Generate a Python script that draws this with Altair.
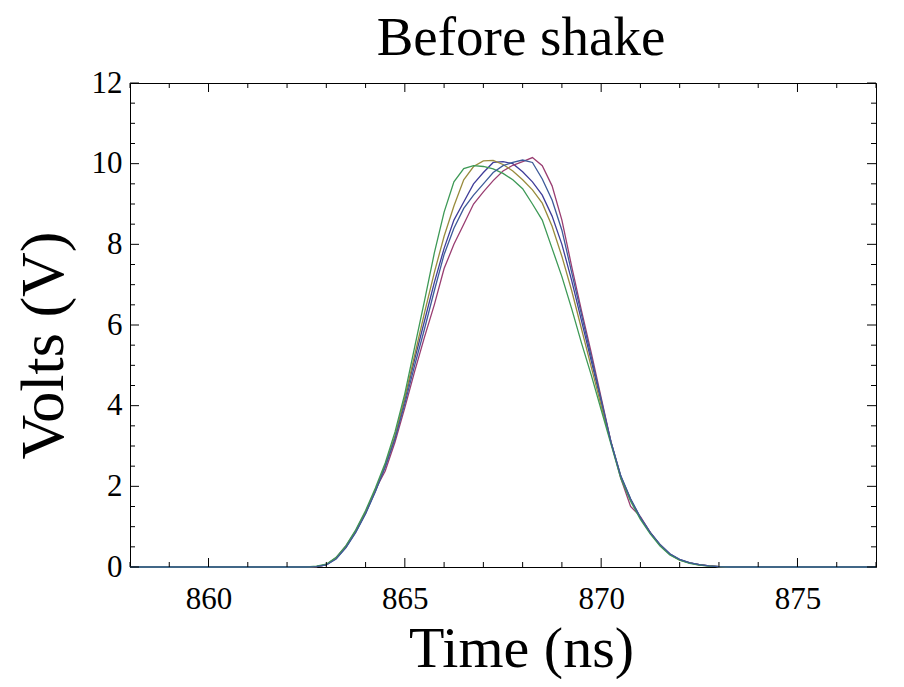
import altair as alt
import pandas as pd

# ---- data ----
time_ns = [858, 859, 860, 861, 862, 862.5,
           862.75, 863.0, 863.25, 863.5, 863.75, 864.0, 864.25, 864.5, 864.75,
           865.0, 865.25, 865.5, 865.75, 866.0, 866.25, 866.5, 866.75, 867.0,
           867.25, 867.5, 867.75, 868.0, 868.25, 868.5, 868.75, 869.0, 869.25,
           869.5, 869.75, 870.0, 870.25, 870.5, 870.75, 871.0, 871.25, 871.5,
           871.75, 872.0, 872.25, 872.5, 872.75, 873.0, 873.25,
           873.5, 874, 875, 876, 877]

run1 = [0, 0, 0, 0, 0, 0,
        0.01, 0.05, 0.21, 0.49, 0.87, 1.33, 1.88, 2.5, 3.22,
        4.15, 5.15, 6.1, 7.05, 7.9, 8.6, 9.05, 9.5, 9.78,
        10.03, 10.05, 10.0, 9.8, 9.55, 9.22, 8.7, 8.0, 7.1,
        6.1, 5.1, 4.1, 3.1, 2.25, 1.68, 1.22, 0.85, 0.55,
        0.32, 0.18, 0.1, 0.06, 0.03, 0.01, 0.0,
        0, 0, 0, 0, 0]

run2 = [0, 0, 0, 0, 0, 0,
        0.01, 0.06, 0.23, 0.52, 0.9, 1.36, 1.92, 2.38, 3.1,
        3.95, 4.85, 5.7, 6.5, 7.4, 8.0, 8.5, 9.0, 9.3,
        9.58, 9.82, 9.96, 10.05, 10.15, 9.95, 9.45, 8.6, 7.45,
        6.35, 5.3, 4.2, 3.1, 2.2, 1.5, 1.25, 0.86, 0.55,
        0.32, 0.18, 0.1, 0.06, 0.03, 0.01, 0.0,
        0, 0, 0, 0, 0]

run3 = [0, 0, 0, 0, 0, 0,
        0.01, 0.06, 0.22, 0.5, 0.89, 1.36, 1.91, 2.52, 3.25,
        4.2, 5.25, 6.3, 7.3, 8.2, 8.95, 9.6, 9.93, 10.07,
        10.08, 9.98, 9.82, 9.6, 9.35, 9.02, 8.45, 7.7, 6.85,
        5.9, 4.95, 4.0, 3.08, 2.24, 1.67, 1.21, 0.84, 0.54,
        0.31, 0.17, 0.1, 0.05, 0.03, 0.01, 0.0,
        0, 0, 0, 0, 0]

run4 = [0, 0, 0, 0, 0, 0,
        0.02, 0.07, 0.24, 0.53, 0.92, 1.4, 1.96, 2.58, 3.35,
        4.3, 5.45, 6.6, 7.78, 8.8, 9.55, 9.88, 9.95, 9.93,
        9.87, 9.76, 9.6, 9.38, 9.0, 8.6, 7.9, 7.2, 6.4,
        5.55, 4.75, 3.9, 3.05, 2.2, 1.63, 1.18, 0.82, 0.52,
        0.3, 0.17, 0.09, 0.05, 0.02, 0.01, 0.0,
        0, 0, 0, 0, 0]

run5 = [0, 0, 0, 0, 0, 0,
        0.01, 0.05, 0.2, 0.48, 0.86, 1.32, 1.87, 2.48, 3.18,
        4.05, 5.0, 5.9, 6.85, 7.75, 8.4, 8.89, 9.22, 9.5,
        9.78, 9.95, 10.03, 10.09, 10.03, 9.62, 9.1, 8.35, 7.3,
        6.25, 5.2, 4.15, 3.1, 2.26, 1.69, 1.23, 0.86, 0.56,
        0.33, 0.19, 0.11, 0.06, 0.03, 0.01, 0.0,
        0, 0, 0, 0, 0]

series_names = ["run1", "run2", "run3", "run4", "run5"]
series_values = [run1, run2, run3, run4, run5]
series_colors = ["#3F3D99", "#993D71", "#998B3D", "#3D9956", "#3D5A99"]

x_major = [860, 865, 870, 875]
x_minor = [858, 859, 861, 862, 863, 864, 866, 867, 868, 869, 871, 872, 873, 874, 876, 877]
y_major = [0, 2, 4, 6, 8, 10, 12]
y_minor = [0.5, 1, 1.5, 2.5, 3, 3.5, 4.5, 5, 5.5, 6.5, 7, 7.5, 8.5, 9, 9.5,
           10.5, 11, 11.5]

# ---- build table ----
rows = []
for name, vals in zip(series_names, series_values):
    for t, v in zip(time_ns, vals):
        rows.append({"t": t, "v": v, "series": name})
df = pd.DataFrame(rows)

W, H = 746, 484
SERIF = "Liberation Serif"

x_scale = alt.Scale(domain=[858, 877], nice=False, zero=False)
y_scale = alt.Scale(domain=[0, 12], nice=False, zero=False)

x_axis = alt.Axis(values=x_major, format="d", title="Time (ns)", grid=False,
                  ticks=False, domain=False, labelPadding=17, labelFontSize=31,
                  labelFont=SERIF, labelColor="black", titleFont=SERIF,
                  titleFontSize=58, titleFontWeight="normal", titleColor="black",
                  titleX=391, titleY=99, titleBaseline="alphabetic",
                  titleAlign="center", labelFlush=False)
y_axis = alt.Axis(values=y_major, format="d", title="Volts (V)", grid=False,
                  ticks=False, domain=False, labelPadding=8, labelFontSize=31,
                  labelFont=SERIF, labelColor="black", titleFont=SERIF,
                  titleFontSize=62, titleFontWeight="normal", titleColor="black",
                  titleX=-68, titleY=262, titleAngle=270,
                  titleBaseline="alphabetic", titleAlign="center", labelFlush=False)

lines = alt.Chart(df).mark_line(strokeWidth=1.3).encode(
    x=alt.X("t:Q", scale=x_scale, axis=x_axis),
    y=alt.Y("v:Q", scale=y_scale, axis=y_axis),
    color=alt.Color("series:N", scale=alt.Scale(domain=series_names, range=series_colors),
                    legend=None),
)


def xticks(vals, length, top):
    d = pd.DataFrame({"t": vals})
    if top:
        y0, y1 = 0, length
    else:
        y0, y1 = H, H - length
    return alt.Chart(d).mark_rule(color="black", strokeWidth=1).encode(
        x=alt.X("t:Q", scale=x_scale, axis=x_axis),
        y=alt.value(y0), y2=alt.value(y1))


def yticks(vals, length, right):
    d = pd.DataFrame({"v": vals})
    if right:
        x0, x1 = W, W - length
    else:
        x0, x1 = 0, length
    return alt.Chart(d).mark_rule(color="black", strokeWidth=1).encode(
        y=alt.Y("v:Q", scale=y_scale, axis=y_axis),
        x=alt.value(x0), x2=alt.value(x1))


tick_layers = [
    xticks(x_major, 9, False), xticks(x_minor, 5, False),
    xticks(x_major, 9, True), xticks(x_minor, 5, True),
    yticks(y_major, 9, False), yticks(y_minor, 5, False),
    yticks(y_major, 9, True), yticks(y_minor, 5, True),
]

chart = alt.layer(lines, *tick_layers).properties(
    width=W, height=H,
    autosize=alt.AutoSizeParams(type="none"),
    padding={"left": 122, "top": 75, "right": 20, "bottom": 112},
    title=alt.TitleParams("Before shake", font=SERIF, fontSize=55,
                          fontWeight="normal", color="black", offset=2, dx=18,
                          dy=2, anchor="middle"),
).configure_view(stroke="black", strokeWidth=1)

chart.save("out.html", embed_options={"renderer": "svg", "actions": False})
